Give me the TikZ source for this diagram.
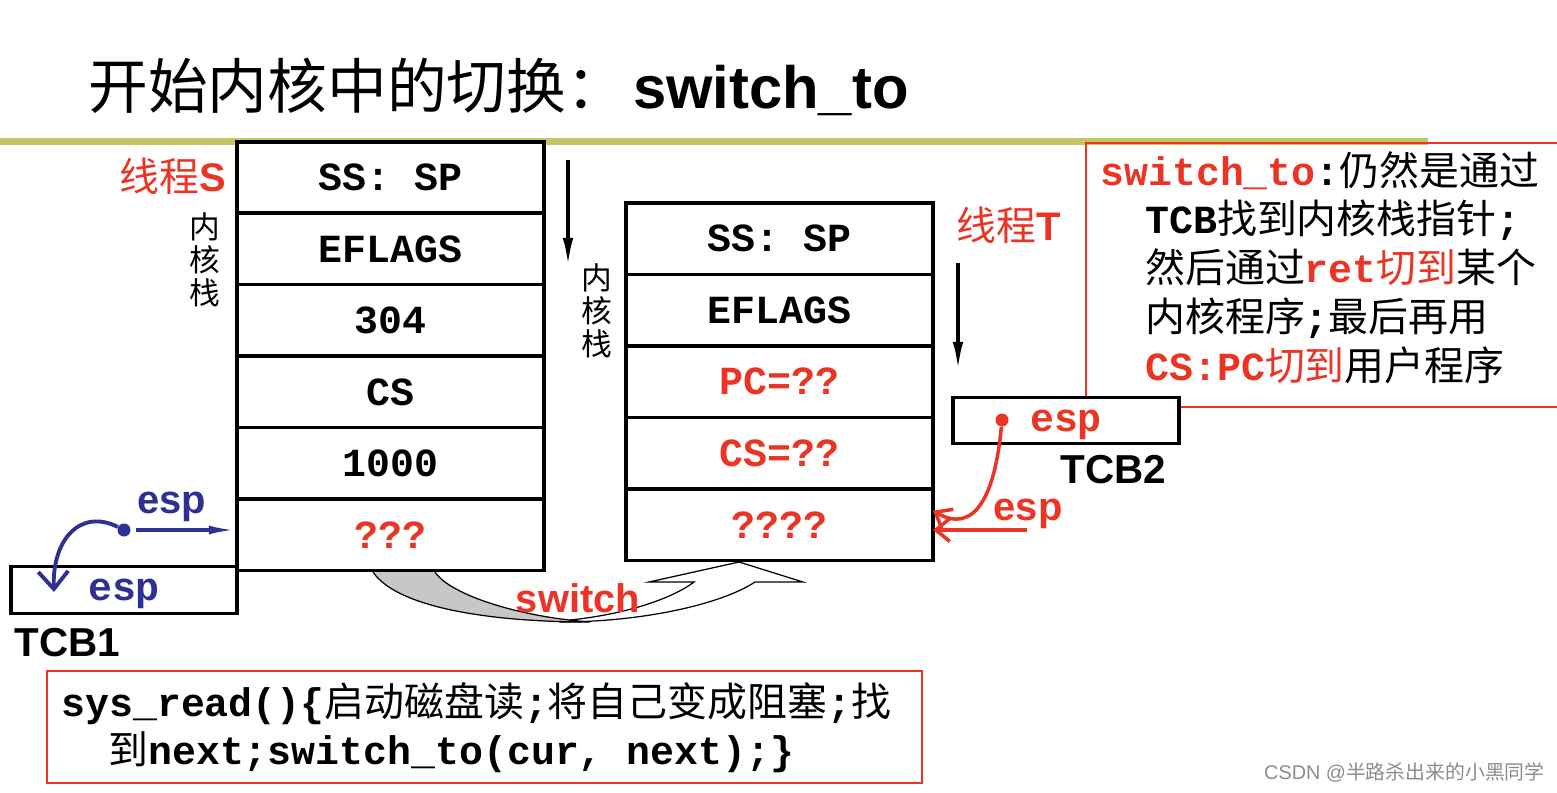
\documentclass[tikz,border=0pt]{standalone}
\usepackage{fontspec}
\newfontfamily\cjk{Noto Sans CJK SC}
\newfontfamily\cour{Liberation Mono}
\newfontfamily\arial{Liberation Sans}
\usetikzlibrary{arrows.meta,positioning}

\definecolor{slidered}{RGB}{236,52,36}
\definecolor{espblue}{RGB}{46,49,146}
\definecolor{olivebar}{RGB}{198,198,100}

\newcommand{\cn}[1]{{\cjk #1}}
\newcommand{\cw}[1]{{\cour\bfseries #1}}
\newcommand{\lblsize}{\fontsize{22.7}{27}\selectfont}

\begin{document}
\begin{tikzpicture}[x=0.02cm,y=-0.02cm,
  stackcell/.style={draw, fill=white, line width=2pt, minimum width=6.14cm, minimum height=1.43cm, inner sep=0pt, outer sep=0pt, font=\lblsize\cour\bfseries},
  tcbbox/.style={draw, fill=white, line width=1.8pt, minimum width=4.52cm, minimum height=0.93cm, inner sep=0pt, text height=12pt, text depth=0pt, font=\lblsize\cour\bfseries},
  stacklbl/.style={align=center, inner sep=0pt, font=\fontsize{17.5}{18.7}\selectfont\cjk},
  notetext/.style={anchor=base west, inner sep=0pt, font=\lblsize},
  bigsans/.style={inner sep=0pt, font=\lblsize\arial\bfseries},
  espdot/.style={circle, fill, inner sep=0pt, minimum size=0.26cm},
  downarrow/.style={-{Latex[length=16pt,width=6pt]}, line width=2pt},
]
\useasboundingbox (0,0) rectangle (1557,792);
\fill[olivebar] (0,138) rectangle (1428,145);

% title
\node[anchor=base west, inner sep=0pt, font=\fontsize{34}{40}\selectfont] (title) at (88,108) {\cn{开始内核中的切换：}\hspace{4pt}{\arial\bfseries switch\_to}};

% note box on the right
\draw[slidered, line width=1pt] (1086,143) rectangle (1560,407);
\node[notetext] (note1) at (1100,185) {\color{slidered}\cw{switch\_to}\color{black}\cw{:}\cn{仍然是通过}};
\node[notetext] (note2) at (1145,233) {\cw{TCB}\cn{找到内核栈指针}\cw{;}};
\node[notetext] (note3) at (1145,282) {\cn{然后通过}\color{slidered}\cw{ret}\cn{切到}\color{black}\cn{某个}};
\node[notetext] (note4) at (1145,331) {\cn{内核程序}\cw{;}\cn{最后再用}};
\node[notetext] (note5) at (1145,380) {\color{slidered}\cw{CS:PC}\cn{切到}\color{black}\cn{用户程序}};

% kernel stack of thread S
\node[stackcell] (s1) at (390.5,177.5) {SS: SP};
\node[stackcell, below=0pt of s1] (s2) {EFLAGS};
\node[stackcell, below=0pt of s2] (s3) {304};
\node[stackcell, below=0pt of s3] (s4) {CS};
\node[stackcell, below=0pt of s4] (s5) {1000};
\node[stackcell, below=0pt of s5, text=slidered] (s6) {???};
\node[anchor=east, inner sep=0pt, text=slidered, font=\lblsize] (thrS) at (226,176) {\cn{线程}{\arial\bfseries S}};
\node[stacklbl] (kstkS) at (205,260) {内\\核\\栈};

% kernel stack of thread T
\node[stackcell] (t1) at (779.5,238.8) {SS: SP};
\node[stackcell, below=0pt of t1] (t2) {EFLAGS};
\node[stackcell, below=0pt of t2, text=slidered] (t3) {PC=??};
\node[stackcell, below=0pt of t3, text=slidered] (t4) {CS=??};
\node[stackcell, below=0pt of t4, text=slidered] (t5) {????};
\node[anchor=west, inner sep=0pt, text=slidered, font=\lblsize] (thrT) at (956,225) {\cn{线程}{\arial\bfseries T}};
\node[stacklbl] (kstkT) at (597,311) {内\\核\\栈};

% growth direction
\coordinate (dirS0) at (568,160);
\coordinate (dirS1) at (568,266);
\coordinate (dirT0) at (958,263);
\coordinate (dirT1) at (958,370);
\draw[downarrow] (dirS0) -- (dirS1);
\draw[downarrow] (dirT0) -- (dirT1);

% TCBs
\node[tcbbox, text=espblue] (tcb1) at (124,590) {esp};
\node[bigsans, anchor=north west, font=\fontsize{23}{27}\selectfont\arial\bfseries] (tcb1lbl) at (14,628) {TCB1};
\node[tcbbox, text=slidered] (tcb2) at (1066,420.5) {esp};
\node[bigsans, anchor=north west, font=\fontsize{23}{27}\selectfont\arial\bfseries] (tcb2lbl) at (1060,455) {TCB2};

% esp of S
\node[espdot, espblue] (dotS) at (124,530) {};
\node[bigsans, text=espblue] (espS) at (172,507) {esp};
\coordinate (tipS) at (54,592);
\draw[espblue, line width=2pt, shorten <=3pt, -{Latex[length=16pt,width=5pt]}] (dotS) -- (dotS -| s6.west);
\draw[espblue, line width=2.2pt, -{Straight Barb[length=10pt,width=17pt]}] (dotS) .. controls (80,508) and (52,540) .. (tipS);

% esp of T
\node[espdot, slidered] (dotT) at (1002,420) {};
\node[bigsans, text=slidered] (espT) at (1028,514) {esp};
\coordinate (espTend) at (1027,530);
\draw[slidered, line width=2pt, -{Straight Barb[length=8pt,width=13pt]}] (dotT) .. controls (995,495) and (975,535) .. ([yshift=0.28cm]t5.east);
\draw[slidered, line width=2pt, -{Straight Barb[length=8pt,width=13pt]}] (espTend) -- (espTend -| t5.east);

% switch arrow
\draw[line width=0.7pt, fill=white] (560,622) .. controls (640,622) and (720,605) .. (755,582) -- (803,582) -- (739,562) -- (649,582) -- (694,582) .. controls (670,600) and (620,616) .. (560,621) -- cycle;
\draw[line width=0.7pt, fill=black!22] (373,572) .. controls (395,605) and (480,622) .. (590,622) .. controls (520,617) and (450,595) .. (435,572);
\node[bigsans, text=slidered] (swlbl) at (578,598) {switch};

% sys_read code
\node[draw=slidered, line width=1pt, minimum width=17.5cm, minimum height=2.24cm, inner sep=0pt] (codebox) at (484.5,727) {};
\node[notetext] (code1) at (61,716) {\cw{sys\_read()\{}\cn{启动磁盘读}\cw{;}\cn{将自己变成阻塞}\cw{;}\cn{找}};
\node[notetext] (code2) at (108,764) {\cn{到}\cw{next;switch\_to(cur, next);\}}};

\node[anchor=base east, inner sep=0pt, text=black!45, font=\fontsize{11.3}{13}\selectfont] (wmark) at (1545,779) {{\arial CSDN @}\cn{半路杀出来的小黑同学}};
\end{tikzpicture}
\end{document}
